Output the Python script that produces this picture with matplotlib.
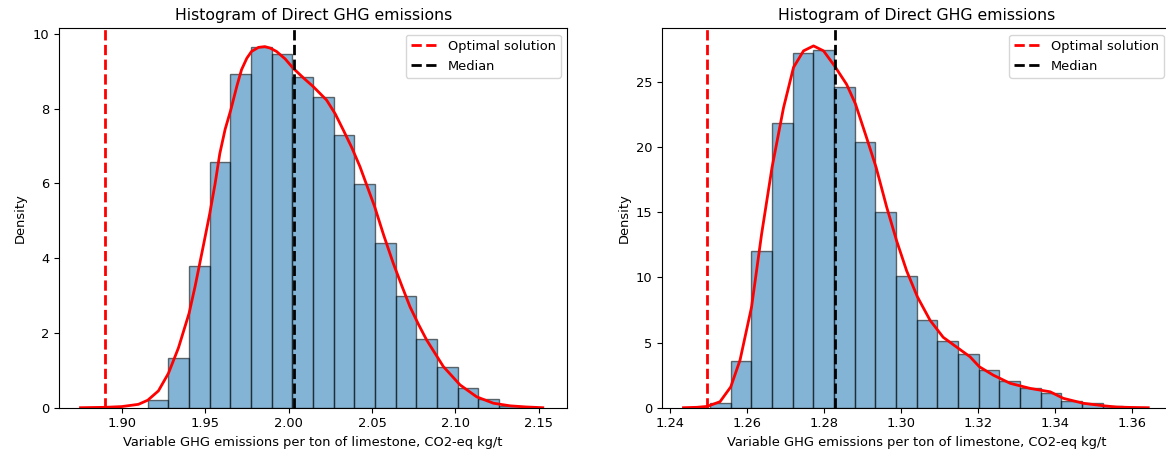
import numpy as np
import matplotlib
matplotlib.use("Agg")
import matplotlib.pyplot as plt

# ==========================
# Data
# ==========================

# left panel: histogram (density) of direct GHG emissions
left_bin_start = 1.9156
left_bin_width = 0.01238
left_density = [0.21, 1.32, 3.79, 6.58, 8.93, 9.66, 9.46, 8.84, 8.31, 7.30,
                5.99, 4.40, 2.99, 1.83, 1.10, 0.52, 0.22, 0.04]
left_kde_x = [1.8753, 1.8900, 1.9000, 1.9100, 1.9156, 1.9220, 1.9280, 1.9340,
              1.9404, 1.9440, 1.9490, 1.9528, 1.9560, 1.9588, 1.9620, 1.9654,
              1.9690, 1.9718, 1.9750, 1.9778, 1.9820, 1.9858, 1.9890, 1.9928,
              1.9980, 2.0028, 2.0090, 2.0148, 2.0228, 2.0280, 2.0328, 2.0380,
              2.0428, 2.0516, 2.0570, 2.0628, 2.0680, 2.0728, 2.0780, 2.0828,
              2.0928, 2.1028, 2.1128, 2.1228, 2.1328, 2.1424, 2.1524]
left_kde_y = [0.00, 0.01, 0.03, 0.09, 0.20, 0.45, 0.92, 1.60, 2.53, 3.25,
              4.35, 5.20, 6.00, 6.80, 7.45, 7.97, 8.60, 9.04, 9.35, 9.53,
              9.64, 9.66, 9.62, 9.53, 9.33, 9.08, 8.82, 8.59, 8.23, 7.86,
              7.43, 6.95, 6.45, 5.38, 4.62, 3.86, 3.25, 2.70, 2.22, 1.81,
              1.10, 0.61, 0.29, 0.12, 0.05, 0.02, 0.00]
left_optimal = 1.890
left_median = 2.0035

# right panel
right_bin_start = 1.2504
right_bin_width = 0.00537
right_density = [0.33, 3.57, 11.99, 21.80, 27.24, 27.44, 24.56, 20.38, 15.03,
                 10.08, 6.76, 5.13, 4.11, 2.89, 2.07, 1.51, 1.15, 0.54, 0.34,
                 0.10]
right_kde_x = [1.2435, 1.2470, 1.2497, 1.2530, 1.2558, 1.2582, 1.2612, 1.2638,
               1.2665, 1.2695, 1.2721, 1.2747, 1.2773, 1.2799, 1.2828, 1.2859,
               1.2882, 1.2911, 1.2936, 1.2963, 1.2989, 1.3015, 1.3043, 1.3076,
               1.3110, 1.3150, 1.3180, 1.3204, 1.3240, 1.3284, 1.3336, 1.3388,
               1.3422, 1.3474, 1.3526, 1.3561, 1.3600, 1.3643]
right_kde_y = [0.00, 0.03, 0.10, 0.46, 1.60, 3.65, 7.73, 13.3, 18.4, 23.0,
               26.1, 27.37, 27.75, 27.37, 26.2, 24.8, 23.3, 20.7, 18.4, 15.4,
               12.8, 10.5, 8.5, 6.7, 5.4, 4.54, 3.9, 3.14, 2.5, 1.87, 1.48,
               1.22, 0.72, 0.34, 0.15, 0.05, 0.02, 0.00]
right_optimal = 1.2497
right_median = 1.2830

title = "Histogram of Direct GHG emissions"
xlabel = "Variable GHG emissions per ton of limestone, CO2-eq kg/t"

# ==========================
# Figure
# ==========================

fig = plt.figure(figsize=(11.66, 4.57), dpi=100)
ax1 = fig.add_axes([59 / 1166, 49.3 / 457, 508.3 / 1166, 379.4 / 457])
ax2 = fig.add_axes([662.3 / 1166, 49.3 / 457, 508.3 / 1166, 379.4 / 457])

panels = [
    (ax1, left_bin_start, left_bin_width, left_density, left_kde_x, left_kde_y,
     left_optimal, left_median, (1.8624, 2.1671), (0, 10.15), [0, 2, 4, 6, 8, 10]),
    (ax2, right_bin_start, right_bin_width, right_density, right_kde_x, right_kde_y,
     right_optimal, right_median, (1.2380, 1.3701), (0, 29.1), [0, 5, 10, 15, 20, 25]),
]

for ax, start, width, dens, kx, ky, opt, med, xlim, ylim, yticks in panels:
    edges = start + width * np.arange(len(dens))
    ax.bar(edges, dens, width=width, align="edge", color="#1f77b4",
           alpha=0.55, edgecolor="black", linewidth=1)
    ax.plot(kx, ky, color="red", linewidth=2)
    ax.axvline(opt, color="red", linestyle="--", linewidth=2, label="Optimal solution")
    ax.axvline(med, color="black", linestyle="--", linewidth=2, label="Median")

    ax.set_xlim(*xlim)
    ax.set_ylim(*ylim)
    ax.set_yticks(yticks)
    ax.tick_params(labelsize=9.4)

    ax.set_title(title, fontsize=11.3)
    ax.set_xlabel(xlabel, fontsize=9.4)
    ax.set_ylabel("Density", fontsize=9.4)
    ax.legend(loc="upper right", fontsize=9.4)

ax1.set_xticks([1.90, 1.95, 2.00, 2.05, 2.10, 2.15])
ax2.set_xticks([1.24, 1.26, 1.28, 1.30, 1.32, 1.34, 1.36])

fig.savefig("out.png", dpi=100)
